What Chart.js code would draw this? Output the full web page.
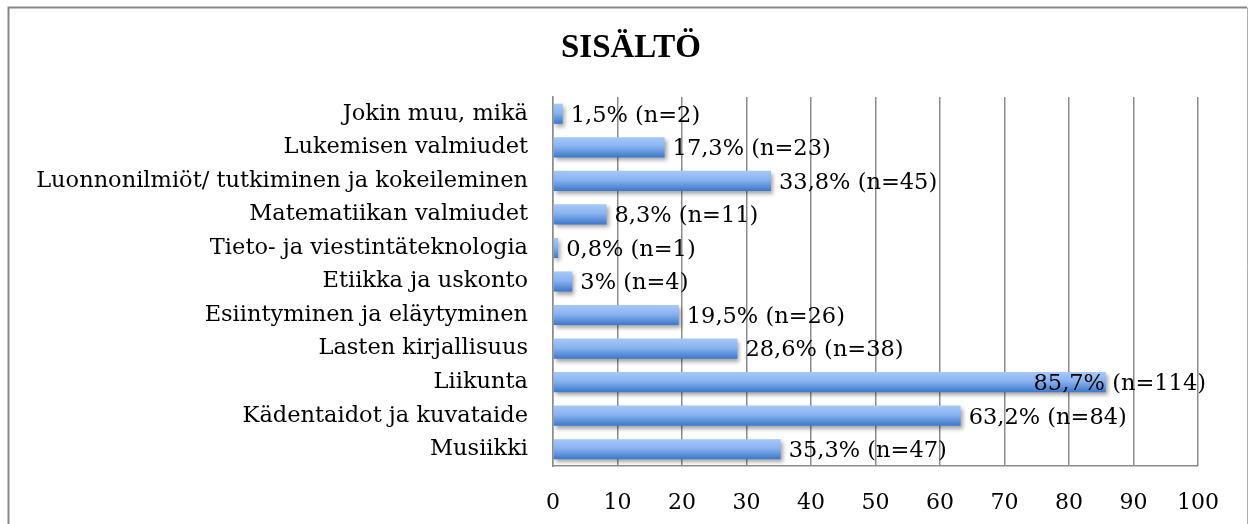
<!DOCTYPE html>
<html lang="fi">
<head>
    <meta charset="UTF-8">
    <title>SISÄLTÖ</title>
    <script src="https://cdn.jsdelivr.net/npm/chart.js"></script>
    <style>
        html, body { margin: 0; padding: 0; background: #fff; }
        #wrap { width: 1250px; height: 524px; }
    </style>
</head>
<body>
<div id="wrap"><canvas id="chart" width="1250" height="524"></canvas></div>
<script>
    // categories, top to bottom as in the picture
    const categories = [
        'Jokin muu, mikä',
        'Lukemisen valmiudet',
        'Luonnonilmiöt/ tutkiminen ja kokeileminen',
        'Matematiikan valmiudet',
        'Tieto- ja viestintäteknologia',
        'Etiikka ja uskonto',
        'Esiintyminen ja eläytyminen',
        'Lasten kirjallisuus',
        'Liikunta',
        'Kädentaidot ja kuvataide',
        'Musiikki'
    ];
    const percents = [1.5, 17.3, 33.8, 8.3, 0.8, 3, 19.5, 28.6, 85.7, 63.2, 35.3];
    const counts = [2, 23, 45, 11, 1, 4, 26, 38, 114, 84, 47];
    const xTicks = [0, 10, 20, 30, 40, 50, 60, 70, 80, 90, 100];

    const serif = '"DejaVu Serif", "Liberation Serif", serif';

    function barGradient(context) {
        const chart = context.chart;
        if (!chart.chartArea) return '#6f9fe3';
        const y = chart.scales.y.getPixelForValue(context.dataIndex);
        const g = chart.ctx.createLinearGradient(0, y - 10, 0, y + 10);
        g.addColorStop(0, '#a6c8fa');
        g.addColorStop(0.45, '#8ab3ef');
        g.addColorStop(1, '#3b78cc');
        return g;
    }

    // outer frame of the chart object
    const framePlugin = {
        id: 'frame',
        afterLayout(chart) {
            // let the long category names use the space left of the axis box
            chart.scales.y.left = 0;
        },
        beforeDraw(chart) {
            const c = chart.ctx;
            c.save();
            c.fillStyle = '#fff';
            c.fillRect(0, 0, chart.width, chart.height);
            c.strokeStyle = '#878787';
            c.lineWidth = 2;
            c.beginPath();
            c.moveTo(8.5, chart.height);
            c.lineTo(8.5, 7.5);
            c.lineTo(1247, 7.5);
            c.stroke();
            c.strokeStyle = '#b0b0b0';
            c.lineWidth = 1;
            c.beginPath();
            c.moveTo(1247.5, 7.5);
            c.lineTo(1247.5, chart.height);
            c.stroke();
            c.restore();
        }
    };

    // soft shadow under the bars
    const shadowPlugin = {
        id: 'barShadow',
        beforeDatasetsDraw(chart) {
            const c = chart.ctx;
            c.save();
            c.shadowColor = 'rgba(0,0,0,0.35)';
            c.shadowBlur = 4;
            c.shadowOffsetX = 2;
            c.shadowOffsetY = 3;
        },
        afterDatasetsDraw(chart) {
            chart.ctx.restore();
        }
    };

    // value labels at bar ends
    const labelPlugin = {
        id: 'valueLabels',
        afterDatasetsDraw(chart) {
            const c = chart.ctx;
            const meta = chart.getDatasetMeta(0);
            c.save();
            c.font = '22.5px ' + serif;
            c.fillStyle = '#000';
            c.textBaseline = 'middle';
            c.textAlign = 'left';
            const maxRight = chart.chartArea.right + 8;
            meta.data.forEach((bar, i) => {
                const txt = String(percents[i]).replace('.', ',') + '% (n=' + counts[i] + ')';
                const w = c.measureText(txt).width;
                let x = bar.x + 8;
                if (x + w > maxRight) x = maxRight - w;
                c.fillText(txt, x, bar.y + 2);
            });
            c.restore();
        }
    };

    new Chart(document.getElementById('chart'), {
        type: 'bar',
        data: {
            labels: categories,
            datasets: [{
                data: percents,
                backgroundColor: barGradient,
                borderWidth: 0,
                barPercentage: 0.6,
                categoryPercentage: 1
            }]
        },
        plugins: [framePlugin, shadowPlugin, labelPlugin],
        options: {
            indexAxis: 'y',
            responsive: false,
            animation: false,
            layout: { padding: { top: 10, left: 64, right: 52, bottom: 0 } },
            plugins: {
                legend: { display: false },
                tooltip: { enabled: false },
                title: {
                    display: true,
                    text: 'SISÄLTÖ',
                    color: '#000',
                    font: { family: '"Liberation Serif", serif', size: 33, weight: 'bold', lineHeight: 1.0 },
                    padding: { top: 22, bottom: 32 }
                }
            },
            scales: {
                x: {
                    min: 0,
                    max: 100,
                    afterBuildTicks(scale) {
                        scale.ticks = xTicks.map(v => ({ value: v }));
                    },
                    afterFit(scale) { scale.height = 58; },
                    grid: { color: '#8c8c8c', lineWidth: 1.5, drawTicks: false },
                    border: { color: '#8c8c8c', width: 1.5 },
                    ticks: { color: '#000', padding: 24, font: { family: serif, size: 22 } }
                },
                y: {
                    afterFit(scale) { scale.width = 489; },
                    grid: { display: false, drawTicks: false },
                    border: { color: '#8c8c8c', width: 1.5 },
                    ticks: { color: '#000', padding: 25, font: { family: serif, size: 22.5 } }
                }
            }
        }
    });
</script>
</body>
</html>
